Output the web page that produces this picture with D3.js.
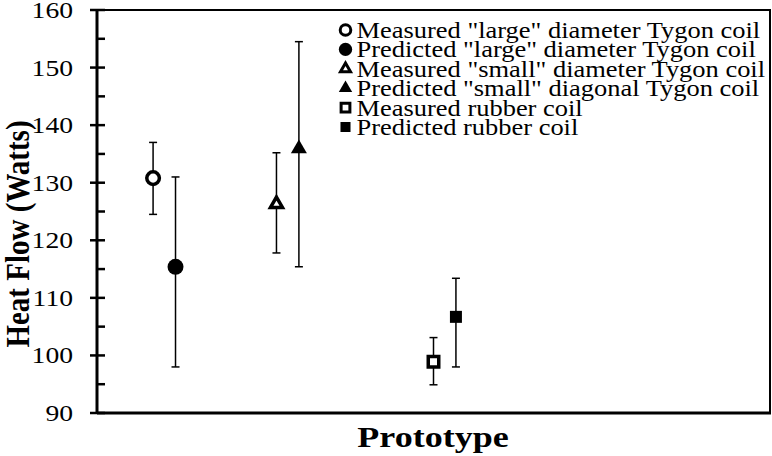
<!DOCTYPE html>
<html>
<head>
<meta charset="utf-8">
<script src="https://cdn.jsdelivr.net/npm/d3@7"></script>
<style>
  body { margin: 0; background: #fff; }
</style>
</head>
<body>
<div id="canvas"></div>
<script>
"use strict";

/* ===============================
   Data */
let seriesNames = [
  "Measured \"large\" diameter Tygon coil",
  "Predicted \"large\" diameter Tygon coil",
  "Measured \"small\" diameter Tygon coil",
  "Predicted \"small\" diagonal Tygon coil",
  "Measured rubber coil",
  "Predicted rubber coil"
];
let xValues = [0.5, 0.7, 1.6, 1.8, 3.0, 3.2];
let yValues = [130.8, 115.4, 126.3, 135.9, 98.9, 106.7];
let errLow = [124.5, 98.0, 117.8, 115.4, 94.9, 98.0];
let errHigh = [137.0, 131.0, 135.2, 154.5, 103.1, 113.4];
let yTicks = [90, 100, 110, 120, 130, 140, 150, 160];

/* ===============================
   Configuration */
let svgWidth = 772;
let svgHeight = 456;
let plotLeft = 97;
let plotRight = 770;
let plotTop = 10;
let plotBottom = 413;
let stretch = 1.15;   // the source picture is squeezed wider than tall
let serif = "'Liberation Serif', 'Times New Roman', Times, serif";

let svg = d3.select("#canvas")
  .append("svg")
  .attr("width", svgWidth)
  .attr("height", svgHeight)
  .attr("font-family", serif);

let xScale = d3.scaleLinear().domain([0, 6]).range([plotLeft, plotRight]);
let yScale = d3.scaleLinear().domain([90, 160]).range([plotBottom, plotTop]);

/* marker style per series */
let shapes = [d3.symbolCircle, d3.symbolCircle, d3.symbolTriangle, d3.symbolTriangle, d3.symbolSquare, d3.symbolSquare];
let filled = [false, true, false, true, false, true];
let sizes = [125, 200, 62, 111, 110, 144];

function stretchText(sel, k) {
  sel.each(function () {
    let len = this.getComputedTextLength();
    d3.select(this)
      .attr("textLength", len * (k || stretch))
      .attr("lengthAdjust", "spacingAndGlyphs");
  });
}

function markerPath(i, k) {
  return d3.symbol().type(shapes[i]).size(sizes[i] * k)();
}

/* Frame */
svg.append("rect")
  .attr("x", plotLeft)
  .attr("y", plotTop)
  .attr("width", plotRight - plotLeft)
  .attr("height", plotBottom - plotTop)
  .attr("fill", "none")
  .attr("stroke", "black")
  .attr("stroke-width", 2);

/* Axes lines */
svg.append("line")
  .attr("x1", plotLeft).attr("x2", plotLeft)
  .attr("y1", plotTop - 1).attr("y2", plotBottom)
  .attr("stroke", "black").attr("stroke-width", 3);

svg.append("line")
  .attr("x1", plotLeft).attr("x2", plotRight + 1)
  .attr("y1", plotBottom).attr("y2", plotBottom)
  .attr("stroke", "black").attr("stroke-width", 3);

/* major ticks cross the axis, minor ticks inside */
svg.selectAll("line.major")
  .data(yTicks)
  .join("line")
  .attr("class", "major")
  .attr("x1", plotLeft - 7).attr("x2", plotLeft + 8)
  .attr("y1", d => yScale(d)).attr("y2", d => yScale(d))
  .attr("stroke", "black").attr("stroke-width", 2.5);

svg.selectAll("line.minor")
  .data(yTicks.slice(0, -1))
  .join("line")
  .attr("class", "minor")
  .attr("x1", plotLeft).attr("x2", plotLeft + 8)
  .attr("y1", d => yScale(d + 5)).attr("y2", d => yScale(d + 5))
  .attr("stroke", "black").attr("stroke-width", 2.5);

svg.selectAll("text.tick")
  .data(yTicks)
  .join("text")
  .attr("class", "tick")
  .attr("x", plotLeft - 24)
  .attr("y", d => yScale(d) + 8)
  .attr("text-anchor", "end")
  .attr("font-size", 24)
  .text(d => d)
  .call(stretchText);

/* Axis titles */
svg.append("text")
  .attr("transform", "translate(29,234) scale(" + stretch + ",1) rotate(-90)")
  .attr("text-anchor", "middle")
  .attr("font-size", 29)
  .attr("font-weight", "bold")
  .text("Heat Flow (Watts)");

svg.append("text")
  .attr("x", 433)
  .attr("y", 447)
  .attr("text-anchor", "middle")
  .attr("font-size", 30)
  .attr("font-weight", "bold")
  .text("Prototype")
  .call(stretchText, 1.2);

/* Error bars */
let idx = d3.range(xValues.length);
let bars = svg.selectAll("g.err")
  .data(idx)
  .join("g")
  .attr("class", "err")
  .attr("stroke", "black")
  .attr("stroke-width", 1.5);

bars.append("line")
  .attr("x1", i => xScale(xValues[i])).attr("x2", i => xScale(xValues[i]))
  .attr("y1", i => yScale(errLow[i])).attr("y2", i => yScale(errHigh[i]));
bars.append("line")
  .attr("x1", i => xScale(xValues[i]) - 4).attr("x2", i => xScale(xValues[i]) + 4)
  .attr("y1", i => yScale(errLow[i])).attr("y2", i => yScale(errLow[i]));
bars.append("line")
  .attr("x1", i => xScale(xValues[i]) - 4).attr("x2", i => xScale(xValues[i]) + 4)
  .attr("y1", i => yScale(errHigh[i])).attr("y2", i => yScale(errHigh[i]));

/* Points */
svg.selectAll("path.point")
  .data(idx)
  .join("path")
  .attr("class", "point")
  .attr("transform", i => "translate(" + xScale(xValues[i]) + "," + yScale(yValues[i]) + ")")
  .attr("d", i => markerPath(i, 1))
  .attr("fill", i => filled[i] ? "black" : "white")
  .attr("stroke", "black")
  .attr("stroke-width", i => filled[i] ? 0 : 3.5);

/* Legend */
let legendX = 345.5;
let legendY = 30;
let legendStep = 19.4;

let rows = svg.selectAll("g.legend")
  .data(idx)
  .join("g")
  .attr("class", "legend")
  .attr("transform", i => "translate(" + legendX + "," + (legendY + i * legendStep) + ")");

rows.append("path")
  .attr("d", i => markerPath(i, 0.7))
  .attr("fill", i => filled[i] ? "black" : "white")
  .attr("stroke", "black")
  .attr("stroke-width", i => filled[i] ? 0 : 3);

rows.append("text")
  .attr("x", 11)
  .attr("y", 8)
  .attr("font-size", 23)
  .text(i => seriesNames[i])
  .call(stretchText);
</script>
</body>
</html>
